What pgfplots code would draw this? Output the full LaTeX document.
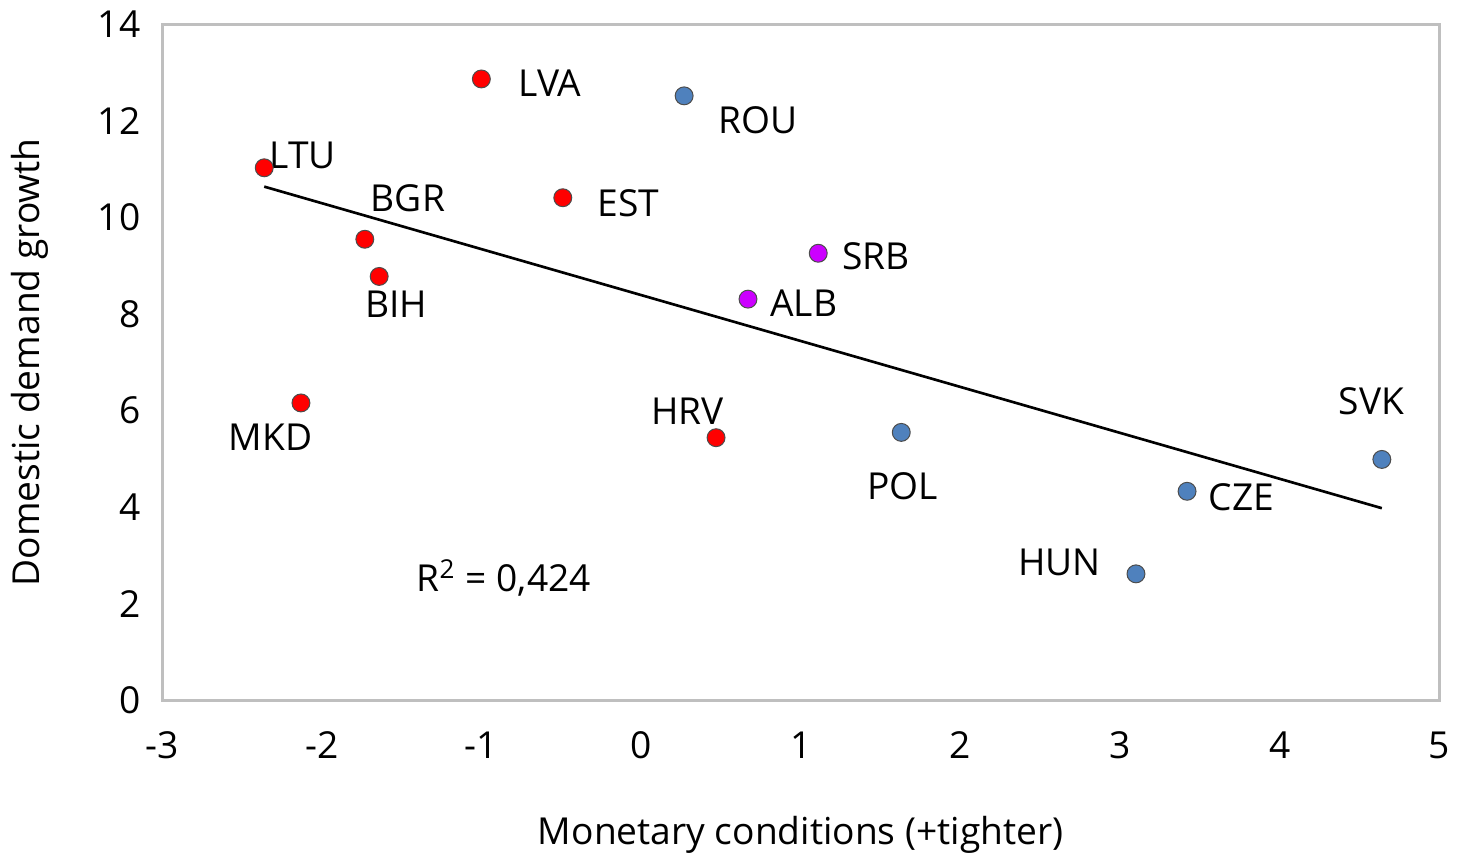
\documentclass[border=0pt]{standalone}
\usepackage{fontspec}
\setmainfont{Open Sans}
\usepackage{pgfplots}
\pgfplotsset{compat=1.18}

\definecolor{ptred}{HTML}{FF0000}
\definecolor{ptblue}{HTML}{4F81BD}
\definecolor{ptviolet}{HTML}{CC00FF}
\definecolor{framegray}{HTML}{BFBFBF}

\begin{document}
\begin{tikzpicture}
\begin{axis}[
  scale only axis, width=384.9pt, height=203.7pt,
  xmin=-3, xmax=5, ymin=0, ymax=14,
  xtick={-3,...,5}, ytick={0,2,...,14},
  major tick length=0pt,
  axis line style={framegray, line width=0.9pt},
  font=\fontsize{11.2}{13}\selectfont,
  /pgf/number format/assume math mode=true,
  xticklabel style={yshift=-6pt},
  yticklabel style={xshift=-3pt},
  xlabel={Monetary conditions (+tighter)},
  ylabel={Domestic demand growth},
  every axis x label/.style={at={([yshift=-40.5pt]rel axis cs:0.5,0)}, anchor=center},
  every axis y label/.style={at={([xshift=-39.9pt]rel axis cs:0,0.5)}, rotate=90, anchor=center},
  clip=false,
]
% trend line
\addplot[black, line width=0.8pt] coordinates {(-2.36,10.64) (4.64,3.98)};
% red group
\addplot[only marks, mark=*, mark size=2.7pt, fill=ptred, draw=black!70, line width=0.3pt]
  coordinates {(-2.36,11.03) (-1.0,12.87) (-0.49,10.41) (-1.73,9.55) (-1.64,8.78) (-2.13,6.16) (0.47,5.44)};
% violet group
\addplot[only marks, mark=*, mark size=2.7pt, fill=ptviolet, draw=black!70, line width=0.3pt]
  coordinates {(1.11,9.26) (0.67,8.31)};
% blue group
\addplot[only marks, mark=*, mark size=2.7pt, fill=ptblue, draw=black!70, line width=0.3pt]
  coordinates {(0.27,12.52) (1.63,5.55) (4.64,4.99) (3.42,4.33) (3.10,2.62)};
% labels
\node at (axis cs:-2.12,11.28) {LTU};
\node at (axis cs:-0.57,12.78) {LVA};
\node at (axis cs:0.73,12.02) {ROU};
\node at (axis cs:-0.08,10.29) {EST};
\node at (axis cs:-1.46,10.39) {BGR};
\node at (axis cs:-1.535,8.21) {BIH};
\node at (axis cs:1.47,9.20) {SRB};
\node at (axis cs:1.02,8.23) {ALB};
\node at (axis cs:-2.32,5.44) {MKD};
\node at (axis cs:0.29,5.98) {HRV};
\node at (axis cs:1.64,4.43) {POL};
\node at (axis cs:4.575,6.19) {SVK};
\node at (axis cs:3.76,4.21) {CZE};
\node at (axis cs:2.62,2.85) {HUN};
\node at (axis cs:-0.86,2.54) {R\textsuperscript{2} = 0,424};
\end{axis}
\end{tikzpicture}
\end{document}
